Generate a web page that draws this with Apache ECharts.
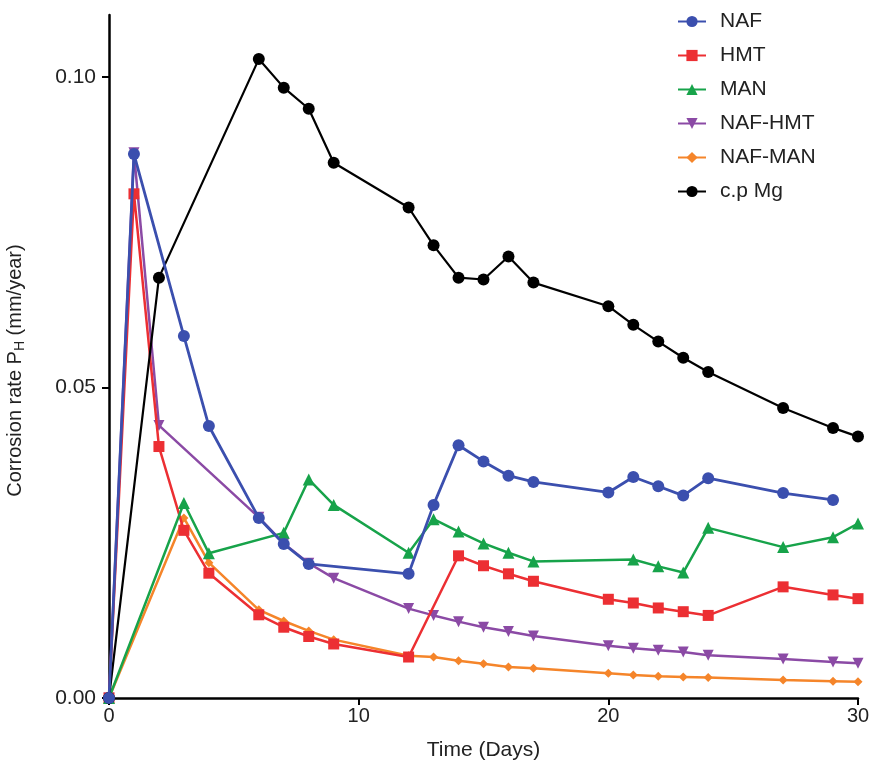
<!DOCTYPE html>
<html>
<head>
<meta charset="utf-8">
<script src="https://cdn.jsdelivr.net/npm/echarts@6/dist/echarts.min.js"></script>
<style>html,body{margin:0;padding:0;background:#fff}#c{width:870px;height:763px}</style>
</head>
<body>
<div id="c"></div>
<script>
const seriesNames = ['NAF', 'HMT', 'MAN', 'NAF-HMT', 'NAF-MAN', 'c.p Mg'];
const xTicks = [0, 10, 20, 30];
const yTicks = [0, 0.05, 0.10];

const nafDays = [0,1,3,4,6,7,8,12,13,14,15,16,17,20,21,22,23,24,27,29];
const nafVals = [0,0.0876,0.0583,0.0438,0.0290,0.0248,0.0216,0.0200,0.0311,0.0407,0.0381,0.0358,0.0348,0.0331,0.0356,0.0341,0.0326,0.0354,0.0330,0.0319];

const hmtDays = [0,1,2,3,4,6,7,8,9,12,14,15,16,17,20,21,22,23,24,27,29,30];
const hmtVals = [0,0.0812,0.0405,0.0270,0.0201,0.0134,0.0114,0.0099,0.0087,0.0066,0.0229,0.0213,0.0200,0.0188,0.0159,0.0153,0.0145,0.0139,0.0133,0.0179,0.0166,0.0160];

const manDays = [0,3,4,7,8,9,12,13,14,15,16,17,21,22,23,24,27,29,30];
const manVals = [0,0.0314,0.0233,0.0266,0.0352,0.0311,0.0234,0.0288,0.0268,0.0249,0.0234,0.0220,0.0223,0.0212,0.0202,0.0274,0.0243,0.0259,0.0281];

const nafHmtDays = [0,1,2,6,7,8,9,12,13,14,15,16,17,20,21,22,23,24,27,29,30];
const nafHmtVals = [0,0.0878,0.0439,0.0291,0.0249,0.0217,0.0193,0.0144,0.0133,0.0123,0.0114,0.0107,0.0100,0.0084,0.0080,0.0077,0.0074,0.0069,0.0063,0.0058,0.0056];

const nafManDays = [0,3,4,6,7,8,9,12,13,14,15,16,17,20,21,22,23,24,27,29,30];
const nafManVals = [0,0.0290,0.0218,0.0142,0.0124,0.0108,0.0094,0.0068,0.0066,0.0060,0.0055,0.0050,0.0048,0.0040,0.0037,0.0035,0.0034,0.0033,0.0029,0.0027,0.0026];

const mgDays = [0,2,6,7,8,9,12,13,14,15,16,17,20,21,22,23,24,27,29,30];
const mgVals = [0,0.0677,0.1029,0.0983,0.0949,0.0862,0.0790,0.0729,0.0677,0.0674,0.0711,0.0669,0.0631,0.0601,0.0574,0.0548,0.0525,0.0467,0.0435,0.0421];

const pair = (xs, ys) => xs.map((x, i) => [x, ys[i]]);
const FONT = 'Liberation Sans, Arial, sans-serif';

function mk(name, xs, ys, color, symbol, size, width, z) {
  return {
    name, type: 'line', data: pair(xs, ys), symbol, symbolSize: size,
    showAllSymbol: true, z,
    lineStyle: { color, width },
    itemStyle: { color, borderWidth: 0 },
    emphasis: { disabled: true },
    animation: false
  };
}

const chart = echarts.init(document.getElementById('c'), null, { renderer: 'canvas' });
chart.setOption({
  backgroundColor: '#fff',
  animation: false,
  grid: { left: 109, right: 12, top: 15, bottom: 65, containLabel: false, outerBoundsMode: 'none' },
  legend: {
    orient: 'vertical', left: 672, top: 6,
    itemWidth: 28, itemHeight: 14, itemGap: 13,
    textStyle: { fontSize: 21, color: '#222', fontFamily: FONT, padding: [0, 0, 0, 9] },
    data: seriesNames
  },
  xAxis: {
    type: 'value', min: 0, max: 30, interval: 10,
    name: 'Time (Days)', nameLocation: 'middle', nameGap: 42,
    nameTextStyle: { fontSize: 21, color: '#222', fontFamily: FONT },
    axisLine: { lineStyle: { color: '#000', width: 2.5 } },
    axisTick: { show: true, length: 7, lineStyle: { color: '#000', width: 2 } },
    axisLabel: { fontSize: 20, color: '#222', fontFamily: FONT, margin: 8,
      customValues: xTicks },
    splitLine: { show: false }
  },
  yAxis: {
    type: 'value', min: 0, max: 0.11, interval: 0.05,
    name: '{a|Corrosion rate P}{s|H}{a| (mm/year)}', nameLocation: 'middle', nameGap: 82,
    nameTextStyle: { padding: [0, 28, 0, 0], rich: {
      a: { fontSize: 20, color: '#222', fontFamily: FONT },
      s: { fontSize: 14, color: '#222', fontFamily: FONT, verticalAlign: 'bottom', padding: [9, 0, 0, 0] }
    } },
    axisLine: { show: true, lineStyle: { color: '#000', width: 2.5 } },
    axisTick: { show: true, length: 7, lineStyle: { color: '#000', width: 2 }, customValues: yTicks },
    axisLabel: { fontSize: 21, color: '#222', fontFamily: FONT, margin: 13,
      customValues: yTicks, formatter: v => v.toFixed(2) },
    splitLine: { show: false }
  },
  series: [
    mk('NAF', nafDays, nafVals, '#3b4fae', 'circle', 12, 2.8, 10),
    mk('HMT', hmtDays, hmtVals, '#ec2f33', 'rect', 11, 2.5, 6),
    mk('MAN', manDays, manVals, '#17a34a', 'triangle', 12, 2.5, 7),
    mk('NAF-HMT', nafHmtDays, nafHmtVals, '#8b4aa5', 'path://M0,0 L10,0 L5,9 Z', 11, 2.5, 5),
    mk('NAF-MAN', nafManDays, nafManVals, '#f5852a', 'diamond', 9, 2.5, 4),
    mk('c.p Mg', mgDays, mgVals, '#000000', 'circle', 12, 2.2, 8)
  ]
});
</script>
</body>
</html>
